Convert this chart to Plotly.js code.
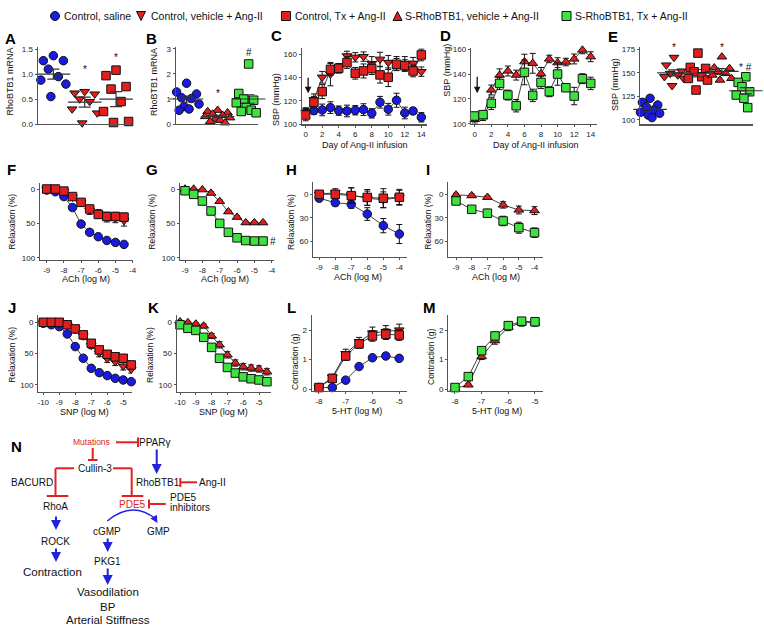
<!DOCTYPE html>
<html><head><meta charset="utf-8">
<script src="https://cdn.plot.ly/plotly-3.0.1.min.js"></script>
<style>html,body{margin:0;padding:0;background:#fff}#chart{width:764px;height:635px}</style>
</head><body><div id="chart"></div>
<script>
// ---------- DATA ----------
const groupNames = ['Control, saline','Control, vehicle + Ang-II','Control, Tx + Ang-II','S-RhoBTB1, vehicle + Ang-II','S-RhoBTB1, Tx + Ang-II'];

// A: RhoBTB1 mRNA
const A_saline = [1.37, 1.27, 1.27, 1.1, 0.95, 0.88, 0.8, 0.55];
const A_vehicle = [0.65, 0.62, 0.6, 0.5, 0.45, 0.3, 0.22, 0.02];
const A_tx = [1.08, 0.97, 0.75, 0.7, 0.45, 0.25, 0.05, 0.03];
const A_mean = [1.0, 0.44, 0.5];
const A_sem = [0.1, 0.1, 0.15];

// B: RhoBTB1 mRNA
const B_saline = [1.63, 1.28, 1.2, 1.05, 1.02, 1.0, 0.8, 0.7, 0.6, 0.55];
const B_sveh = [0.55, 0.5, 0.45, 0.4, 0.35, 0.3, 0.25, 0.2, 0.15, 0.1, 0.05];
const B_stx = [2.4, 1.22, 1.2, 1.0, 0.95, 0.85, 0.8, 0.65, 0.55, 0.5, 0.45];
const B_mean = [1.0, 0.3, 1.0];
const B_sem = [0.12, 0.05, 0.17];

// C: SBP time course (control mice)
const C_days = [0,1,2,3,4,5,6,7,8,9,10,11,12,13,14];
const C_saline = [110,111.7,112.3,114.3,111.7,111.4,112,112.6,109.4,118.9,112.9,120.6,109.7,111.4,106];
const C_saline_err = [4,3,5,5,4,5,4,5,4,5,5,6,5,3,4];
const C_vehicle = [110,121,140.3,143,148,158.6,157.4,158,152,155.7,153,152,152,152.3,145.1];
const C_vehicle_err = [4,5,5,10,4,4,4,4,6,6,6,6,6,5,4];
const C_tx = [108,118.9,128,147,148,152.9,143.7,145.7,147.7,142.3,140.3,151.4,150.3,145.7,159.4];
const C_tx_err = [5,5,6,5,4,5,5,6,5,7,8,5,5,5,5];

// D: SBP time course (S-RhoBTB1 mice)
const D_days = [0,1,2,3,4,5,6,7,8,9,10,11,12,13,14];
const D_sveh = [103.5,105.6,127.2,139.2,142.5,139.2,150,148.7,140.3,152.2,149.2,149.7,152.2,159.4,154];
const D_sveh_err = [3,3,4,5,4,4,6,8,5,3,4,3,4,3,4];
const D_stx = [106.2,107.3,116.4,132.5,123.1,114.5,141.4,122.8,133.3,125.8,140,129,122.3,136.3,132.5];
const D_stx_err = [3,3,5,5,4,5,10,5,5,4,9,3,7,4,5];

// E: SBP final
const E_saline = [123,118.7,115.9,114.1,110.6,108.1,107.1,105.3,102.5];
const E_vehicle = [166.4,158.3,151.9,149.4,147.7,145.9,144.1,136.4];
const E_tx = [171,155.8,154.7,151.2,145.9,144.1,142.4,131.8];
const E_sveh = [167,155.4,154.7,151.2,149.4,147.7,144.1,142.4];
const E_stx = [145.9,139.9,138.8,135.3,130,126.5,124.7,123,113.1];
const E_mean = [111.3,150,149.6,151.5,131];
const E_sem = [2.2,3.2,4,3,3.3];

// F, G: ACh relaxation (aorta)
const FG_logM = [-9,-8.5,-8,-7.5,-7,-6.5,-6,-5.5,-5,-4.5];
const F_saline = [1.5,4,11,27,51,63,69.4,74.8,77.7,80.6];
const F_saline_err = [1,1,1.5,2,2,2,2,2,2,2];
const F_vehicle = [1,1,4,12,20,31,36,41,42,46];
const F_vehicle_err = [2,2,3,4,5,6,6,7,7,8];
const F_tx = [0,0,3,11,19.4,29,37,40,40,41];
const F_tx_err = [2,2,3,3,4,4,5,6,6,6];
const G_sveh = [0,0,1,6,18,33,41,49,49,49];
const G_sveh_err = [1,1,1,2,2,2,2,2,2,2];
const G_stx = [2.5,7.8,17.5,32,50,63,71,75,75.7,75.7];
const G_stx_err = [1,1,1.5,2,2,2,2,2,2,2];

// H, I: ACh relaxation (mesenteric)
const HI_logM = [-9,-8,-7,-6,-5,-4];
const H_saline = [5,10.6,12.7,25,39.7,50.3];
const H_saline_err = [3,4,5,8,9,12];
const H_vehicle = [0,-2,1,5,7,4];
const H_vehicle_err = [3,5,9,9,10,9];
const H_tx = [0,0,1.7,4,5,3.8];
const H_tx_err = [3,5,10,10,12,10];
const I_sveh = [0.8,1.7,3.8,13.5,19.9,20.7];
const I_sveh_err = [2,2,2,4,5,5];
const I_stx = [8.5,19,24,33.8,42.3,48.6];
const I_stx_err = [4,4,5,6,7,6];

// J, K: SNP relaxation
const JK_logM = [-10,-9.5,-9,-8.5,-8,-7.5,-7,-6.5,-6,-5.5,-5,-4.5];
const J_saline = [1.6,4,7,18.6,38.8,57.4,73.4,80.3,85,89.4,92,94.7];
const J_saline_err = [1,1,1,2,2,2,2,2,2,2,2,2];
const J_vehicle = [1,1,2,5,12,22,37,49,58,63,70,75];
const J_vehicle_err = [2,2,2,3,4,5,5,6,6,6,6,6];
const J_tx = [0,0,0,4,10.6,20,33.5,44,51,55,57.4,68];
const J_tx_err = [2,2,2,3,4,5,5,5,6,6,6,6];
const K_sveh = [-1,0.5,2.7,5.9,21.8,36,52,65,71,73,74.5,79];
const K_sveh_err = [2,2,2,3,4,5,5,5,5,5,5,5];
const K_stx = [4,9.6,13,24,40,57.4,72,81,87,90,92,94.7];
const K_stx_err = [2,2,2,2,3,3,3,3,3,3,3,3];

// L, M: 5-HT contraction
const LM_logM = [-8,-7.5,-7,-6.5,-6,-5.5,-5];
const L_saline = [0.05,0.05,0.3,0.76,1.06,1.12,1.04];
const L_saline_err = [0.02,0.02,0.04,0.05,0.05,0.05,0.05];
const L_vehicle = [0.05,0.4,1.2,1.6,1.9,1.95,2.0];
const L_vehicle_err = [0.05,0.1,0.15,0.15,0.2,0.2,0.2];
const L_tx = [0.05,0.36,1.12,1.53,1.8,1.86,1.83];
const L_tx_err = [0.05,0.1,0.15,0.15,0.18,0.18,0.18];
const M_sveh = [0.02,0.14,1.1,1.64,2.1,2.25,2.25];
const M_sveh_err = [0.03,0.05,0.1,0.12,0.12,0.12,0.12];
const M_stx = [0.05,0.42,1.3,1.8,2.15,2.3,2.28];
const M_stx_err = [0.03,0.06,0.1,0.1,0.12,0.12,0.12];

// ---------- STYLE ----------
const W = 764, H = 635;
const BLUE = '#1b1be0', RED = '#e31e1e', GREEN = '#3ee23e';
const FONT = 'Liberation Sans, Arial, sans-serif';
const STY = {
  saline: {symbol:'circle', color:BLUE},
  veh: {symbol:'triangle-down', color:RED},
  tx: {symbol:'square', color:RED},
  sveh: {symbol:'triangle-up', color:RED},
  stx: {symbol:'square', color:GREEN}
};
const fx = p => p / W;
const fy = p => 1 - p / H;

const traces = [];
function ax(i){ return i === 1 ? '' : String(i); }

function curve(i, x, y, err, st){
  traces.push({
    type:'scatter', mode:'lines+markers', x:x, y:y,
    xaxis:'x'+ax(i), yaxis:'y'+ax(i), showlegend:false, cliponaxis:false,
    line:{color:'#111', width:0.8},
    marker:{symbol:st.symbol, size:8.5, color:st.color, line:{color:'#111', width:1}},
    error_y:{type:'data', array:err, visible:true, color:'#111', thickness:1, width:3}
  });
}
const JIT = [0,-0.32,0.32,-0.16,0.16,-0.4,0.4,-0.08,0.08,-0.24,0.24,0.02];
function dots(i, g, vals, st){
  traces.push({
    type:'scatter', mode:'markers', x:vals.map((v,k)=>g+JIT[k%JIT.length]), y:vals,
    xaxis:'x'+ax(i), yaxis:'y'+ax(i), showlegend:false, cliponaxis:false,
    marker:{symbol:st.symbol, size:8.5, color:st.color, line:{color:'#111', width:1}}
  });
}
function meanSem(i, means, sems){
  traces.push({
    type:'scatter', mode:'markers', x:means.map((m,k)=>k), y:means,
    xaxis:'x'+ax(i), yaxis:'y'+ax(i), showlegend:false, cliponaxis:false,
    marker:{symbol:'line-ew', size:24, color:'#333', line:{color:'#333', width:1.2}},
    error_y:{type:'data', array:sems, visible:true, color:'#333', thickness:1.2, width:6}
  });
}

// A
dots(1,0,A_saline,STY.saline); dots(1,1,A_vehicle,STY.veh); dots(1,2,A_tx,STY.tx); meanSem(1,A_mean,A_sem);
// B
dots(2,0,B_saline,STY.saline); dots(2,1,B_sveh,STY.sveh); dots(2,2,B_stx,STY.stx); meanSem(2,B_mean,B_sem);
// C
curve(3,C_days,C_saline,C_saline_err,STY.saline);
curve(3,C_days,C_vehicle,C_vehicle_err,STY.veh);
curve(3,C_days,C_tx,C_tx_err,STY.tx);
// D
curve(4,D_days,D_sveh,D_sveh_err,STY.sveh);
curve(4,D_days,D_stx,D_stx_err,STY.stx);
// E
dots(5,0,E_saline,STY.saline); dots(5,1,E_vehicle,STY.veh); dots(5,2,E_tx,STY.tx);
dots(5,3,E_sveh,STY.sveh); dots(5,4,E_stx,STY.stx); meanSem(5,E_mean,E_sem);
// F
curve(6,FG_logM,F_saline,F_saline_err,STY.saline);
curve(6,FG_logM,F_vehicle,F_vehicle_err,STY.veh);
curve(6,FG_logM,F_tx,F_tx_err,STY.tx);
// G
curve(7,FG_logM,G_sveh,G_sveh_err,STY.sveh);
curve(7,FG_logM,G_stx,G_stx_err,STY.stx);
// H
curve(8,HI_logM,H_saline,H_saline_err,STY.saline);
curve(8,HI_logM,H_vehicle,H_vehicle_err,STY.veh);
curve(8,HI_logM,H_tx,H_tx_err,STY.tx);
// I
curve(9,HI_logM,I_sveh,I_sveh_err,STY.sveh);
curve(9,HI_logM,I_stx,I_stx_err,STY.stx);
// J
curve(10,JK_logM,J_saline,J_saline_err,STY.saline);
curve(10,JK_logM,J_vehicle,J_vehicle_err,STY.veh);
curve(10,JK_logM,J_tx,J_tx_err,STY.tx);
// K
curve(11,JK_logM,K_sveh,K_sveh_err,STY.sveh);
curve(11,JK_logM,K_stx,K_stx_err,STY.stx);
// L
curve(12,LM_logM,L_saline,L_saline_err,STY.saline);
curve(12,LM_logM,L_vehicle,L_vehicle_err,STY.veh);
curve(12,LM_logM,L_tx,L_tx_err,STY.tx);
// M
curve(13,LM_logM,M_sveh,M_sveh_err,STY.sveh);
curve(13,LM_logM,M_stx,M_stx_err,STY.stx);

// ---------- AXES ----------
const panels = [
  {i:1, dx:[37.7,131.7], dy:[46.7,124], xr:[-0.5,2.5], yr:[0,1.55], yt:[0,0.5,1,1.5], ytt:['0.0','0.5','1.0','1.5'], xt:null},
  {i:2, dx:[175.7,258], dy:[46.7,124], xr:[-0.35,2.3], yr:[0,3.09], yt:[0,1,2,3], xt:null},
  {i:3, dx:[301.7,426.7], dy:[48.3,124.3], xr:[-0.48,14.65], yr:[100,165.1], yt:[100,120,140,160], xt:[0,2,4,6,8,10,12,14]},
  {i:4, dx:[471,596.7], dy:[48.3,123.7], xr:[-0.45,14.72], yr:[100,160.8], yt:[100,120,140,160], xt:[0,2,4,6,8,10,12,14]},
  {i:5, dx:[640,753], dy:[46.7,124.3], xr:[-0.42,4.3], yr:[95.4,177.8], yt:[100,125,150,175], xt:null},
  {i:6, dx:[40,133.3], dy:[183.3,260], xr:[-9.39,-3.96], yr:[103.3,-8.3], yt:[0,50,100], xt:[-9,-8,-7,-6,-5,-4]},
  {i:7, dx:[180,274], dy:[183.3,260], xr:[-9.29,-3.87], yr:[103.3,-8.3], yt:[0,50,100], xt:[-9,-8,-7,-6,-5,-4]},
  {i:8, dx:[313.3,406.7], dy:[181.7,256.7], xr:[-9.37,-3.54], yr:[79,-15.9], yt:[0,30,60], xt:[-9,-8,-7,-6,-5,-4]},
  {i:9, dx:[448.3,542.7], dy:[181.7,256.7], xr:[-9.49,-3.48], yr:[79,-15.9], yt:[0,30,60], xt:[-9,-8,-7,-6,-5,-4]},
  {i:10, dx:[38.3,131.7], dy:[315,391.7], xr:[-10.31,-4.47], yr:[110.7,-11.6], yt:[0,50,100], xt:[-10,-9,-8,-7,-6,-5]},
  {i:11, dx:[176.7,270.7], dy:[315,391.7], xr:[-10.21,-4.26], yr:[110.7,-11.6], yt:[0,50,100], xt:[-10,-9,-8,-7,-6,-5]},
  {i:12, dx:[311.7,406.7], dy:[315,391], xr:[-8.27,-4.72], yr:[-0.068,2.51], yt:[0,1,2], xt:[-8,-7,-6,-5]},
  {i:13, dx:[448.3,542.7], dy:[315,391], xr:[-8.25,-4.71], yr:[-0.068,2.51], yt:[0,1,2], xt:[-8,-7,-6,-5]}
];

const layout = {
  width:W, height:H, margin:{l:0,r:0,t:0,b:0}, showlegend:false,
  paper_bgcolor:'#fff', plot_bgcolor:'rgba(0,0,0,0)',
  font:{family:FONT, size:8, color:'#111'},
  annotations:[], shapes:[]
};
panels.forEach(p => {
  const base = {showline:true, linecolor:'#555', linewidth:1.2, ticks:'outside', ticklen:2, tickwidth:1, tickcolor:'#555',
    showgrid:false, zeroline:false, fixedrange:true, tickfont:{family:FONT, size:8, color:'#222'}};
  const xa = Object.assign({}, base, {domain:[fx(p.dx[0]), fx(p.dx[1])], range:p.xr, anchor:'y'+ax(p.i)});
  if (p.xt){ xa.tickmode='array'; xa.tickvals=p.xt; xa.ticktext=p.xt.map(v=>String(v)); }
  else { xa.showticklabels=false; xa.ticks=''; }
  const ya = Object.assign({}, base, {domain:[fy(p.dy[1]), fy(p.dy[0])], range:p.yr, anchor:'x'+ax(p.i),
    tickmode:'array', tickvals:p.yt, ticktext:p.ytt || p.yt.map(v=>String(v))});
  layout['xaxis'+ax(p.i)] = xa;
  layout['yaxis'+ax(p.i)] = ya;
});

// ---------- TEXT ----------
function txt(t, x, y, o){
  layout.annotations.push(Object.assign({text:t, x:fx(x), y:fy(y), xref:'paper', yref:'paper', showarrow:false,
    xanchor:'center', yanchor:'middle', font:{family:FONT, size:9, color:'#111'}}, o||{}));
}
function ytitle(t, x, y, s){ txt(t, x, y, {textangle:-90, font:{family:FONT, size:s||8.5, color:'#111'}}); }
function letter(t, x, y){ txt('<b>'+t+'</b>', x, y, {font:{family:FONT, size:15, color:'#000'}}); }

letter('A',10,38); letter('B',151.7,38); letter('C',276.7,36); letter('D',445,36); letter('E',612.7,37);
letter('F',11.7,170); letter('G',151.7,170); letter('H',291,170); letter('I',428,170);
letter('J',11.7,308); letter('K',153,308); letter('L',291,308); letter('M',430,308); letter('N',16.7,447);

ytitle('RhoBTB1 mRNA',9.5,82,9); ytitle('RhoBTB1 mRNA',154,82,9);
ytitle('SBP (mmHg)',276,100,9); ytitle('SBP (mmHg)',446.7,70,9); ytitle('SBP (mmHg)',615,85,9);
ytitle('Relaxation (%)',11.7,222); ytitle('Relaxation (%)',151.7,222); ytitle('Relaxation (%)',291,222); ytitle('Relaxation (%)',427.7,222);
ytitle('Relaxation (%)',11.7,355); ytitle('Relaxation (%)',150,355); ytitle('Contraction (g)',295,362); ytitle('Contraction (g)',431,357);
txt('Day of Ang-II infusion',364.7,145); txt('Day of Ang-II infusion',535.5,145);
txt('ACh (log M)',85.7,279); txt('ACh (log M)',225,279); txt('ACh (log M)',358,276.5); txt('ACh (log M)',495.7,276.5);
txt('SNP (log M)',84.3,411.5); txt('SNP (log M)',224,411.5); txt('5-HT (log M)',356.7,411); txt('5-HT (log M)',496.7,411);

// significance marks (data coordinates)
function mark(t, i, x, y){
  layout.annotations.push({text:t, x:x, y:y, xref:'x'+ax(i), yref:'y'+ax(i), showarrow:false, xanchor:'center', yanchor:'middle',
    font:{family:FONT, size:10, color:'#111'}});
}
mark('*',1,1,1.1); mark('*',1,2,1.33);
mark('*',2,1,1.2); mark('#',2,2,2.85);
mark('*',3,14.95,158.5); mark('*',3,14.95,145);
mark('#',4,15.2,132);
mark('*',5,1,177); mark('*',5,2,179); mark('*',5,3,177); mark('* #',5,4,155.5);
mark('*',6,-3.8,38); mark('*',6,-3.8,48);
mark('#',7,-3.95,76.7);
mark('*',8,-3.3,2); mark('*',8,-3.3,10);
mark('#',9,-3.35,50);
mark('*',10,-4.1,71); mark('*',10,-4.1,81);
mark('#',11,-4.1,95);
mark('*',12,-4.6,2.0); mark('*',12,-4.6,1.77);

// Ang-II start arrows (C, D)
layout.annotations.push({x:0.3, y:126.5, xref:'x3', yref:'y3', ax:0, ay:-17, text:'', showarrow:true, arrowhead:2, arrowsize:1, arrowwidth:1.3, arrowcolor:'#111'});
layout.annotations.push({x:0.3, y:124.5, xref:'x4', yref:'y4', ax:0, ay:-18, text:'', showarrow:true, arrowhead:2, arrowsize:1, arrowwidth:1.3, arrowcolor:'#111'});

// ---------- LEGEND (layout shapes + text) ----------
const legY = 16;
const legItems = [
  {cx:55, tx:62, st:STY.saline}, {cx:141, tx:149, st:STY.veh}, {cx:286, tx:293, st:STY.tx},
  {cx:397.5, tx:403, st:STY.sveh}, {cx:566.5, tx:573, st:STY.stx}
];
legItems.forEach((it,k) => {
  const r = 4.5, c = it.cx, y = legY;
  const common = {xref:'paper', yref:'paper', fillcolor:it.st.color, line:{color:'#111', width:1}};
  if (it.st.symbol === 'circle') layout.shapes.push(Object.assign({type:'circle', x0:fx(c-r), x1:fx(c+r), y0:fy(y+r), y1:fy(y-r)}, common));
  else if (it.st.symbol === 'square') layout.shapes.push(Object.assign({type:'rect', x0:fx(c-r), x1:fx(c+r), y0:fy(y+r), y1:fy(y-r)}, common));
  else if (it.st.symbol === 'triangle-down') layout.shapes.push(Object.assign({type:'path', path:`M ${fx(c-r)},${fy(y-r)} L ${fx(c+r)},${fy(y-r)} L ${fx(c)},${fy(y+r)} Z`}, common));
  else layout.shapes.push(Object.assign({type:'path', path:`M ${fx(c-r)},${fy(y+r)} L ${fx(c+r)},${fy(y+r)} L ${fx(c)},${fy(y-r)} Z`}, common));
  txt(groupNames[k], it.tx, y, {xanchor:'left', font:{family:FONT, size:10.5, color:'#111'}});
});

// ---------- DIAGRAM N ----------
const DRED = '#e02222', DBLUE = '#2222dd';
function seg(x0,y0,x1,y1,col,w){ layout.shapes.push({type:'line', xref:'paper', yref:'paper', x0:fx(x0), y0:fy(y0), x1:fx(x1), y1:fy(y1), line:{color:col, width:w||2}}); }
function arrow(x0,y0,x1,y1){ layout.annotations.push({x:fx(x1), y:fy(y1), xref:'paper', yref:'paper', ax:x0-x1, ay:y0-y1, text:'', showarrow:true, arrowhead:2, arrowsize:1, arrowwidth:2, arrowcolor:DBLUE, standoff:0}); }
const nfont = s => ({family:FONT, size:s||10, color:'#111'});

txt('Mutations',91.7,442.3,{font:{family:FONT, size:8.5, color:DRED}});
seg(116,442.3,138,442.3,DRED); seg(138,437.5,138,447,DRED);
txt('PPARγ',155,442.3,{font:nfont(10)});
arrow(156.7,448,156.7,474);
seg(92.7,448,92.7,460,DRED); seg(88,460,97.5,460,DRED);
txt('Cullin-3',95,468.3,{font:nfont(10)});
seg(74,468.3,55.5,468.3,DRED); seg(55.5,468.3,55.5,496,DRED); seg(46.7,496,68.3,496,DRED);
seg(113,468.3,131.7,468.3,DRED); seg(131.7,468.3,131.7,496,DRED); seg(121.7,496,143.3,496,DRED);
txt('BACURD',31.7,482.3,{font:nfont(10)});
txt('RhoBTB1',157.7,482.3,{font:nfont(10)});
seg(180.3,478,180.3,487,DRED); seg(180.3,482.3,197,482.3,DRED);
txt('Ang-II',212.3,482.3,{font:nfont(10)});
txt('RhoA',56,506,{font:nfont(10)});
txt('PDE5',132.7,504,{font:{family:FONT, size:10, color:DRED}});
seg(149,499.5,149,508.5,DRED); seg(149,504,165.7,504,DRED);
txt('PDE5',167.5,497.3,{xanchor:'left', font:nfont(10)});
txt('inhibitors',167.5,507.7,{xanchor:'left', font:nfont(10)});
layout.shapes.push({type:'path', xref:'paper', yref:'paper',
  path:`M ${fx(107.3)},${fy(521)} Q ${fx(132)},${fy(500)} ${fx(156)},${fy(519)}`, line:{color:DBLUE, width:1.5}});
layout.annotations.push({x:fx(157.5), y:fy(523), xref:'paper', yref:'paper', ax:-3, ay:-5, text:'', showarrow:true, arrowhead:2, arrowsize:1, arrowwidth:1.5, arrowcolor:DBLUE, standoff:0});
txt('cGMP',106.7,531,{font:nfont(10)});
txt('GMP',158.3,531,{font:nfont(10)});
arrow(56,515,56,530);
txt('ROCK',56,541,{font:nfont(10)});
arrow(56,547,56,562);
txt('Contraction',52.3,571.7,{font:nfont(11.5)});
arrow(107.7,537,107.7,552);
txt('PKG1',107.7,561,{font:nfont(10)});
arrow(107.7,567,107.7,585);
txt('Vasodilation',108.3,592.3,{font:nfont(11.5)});
txt('BP',108.3,606.7,{font:nfont(11.5)});
txt('Arterial Stiffness',108.3,620,{font:nfont(11.5)});

Plotly.newPlot('chart', traces, layout, {staticPlot:true, displayModeBar:false});
</script></body></html>
